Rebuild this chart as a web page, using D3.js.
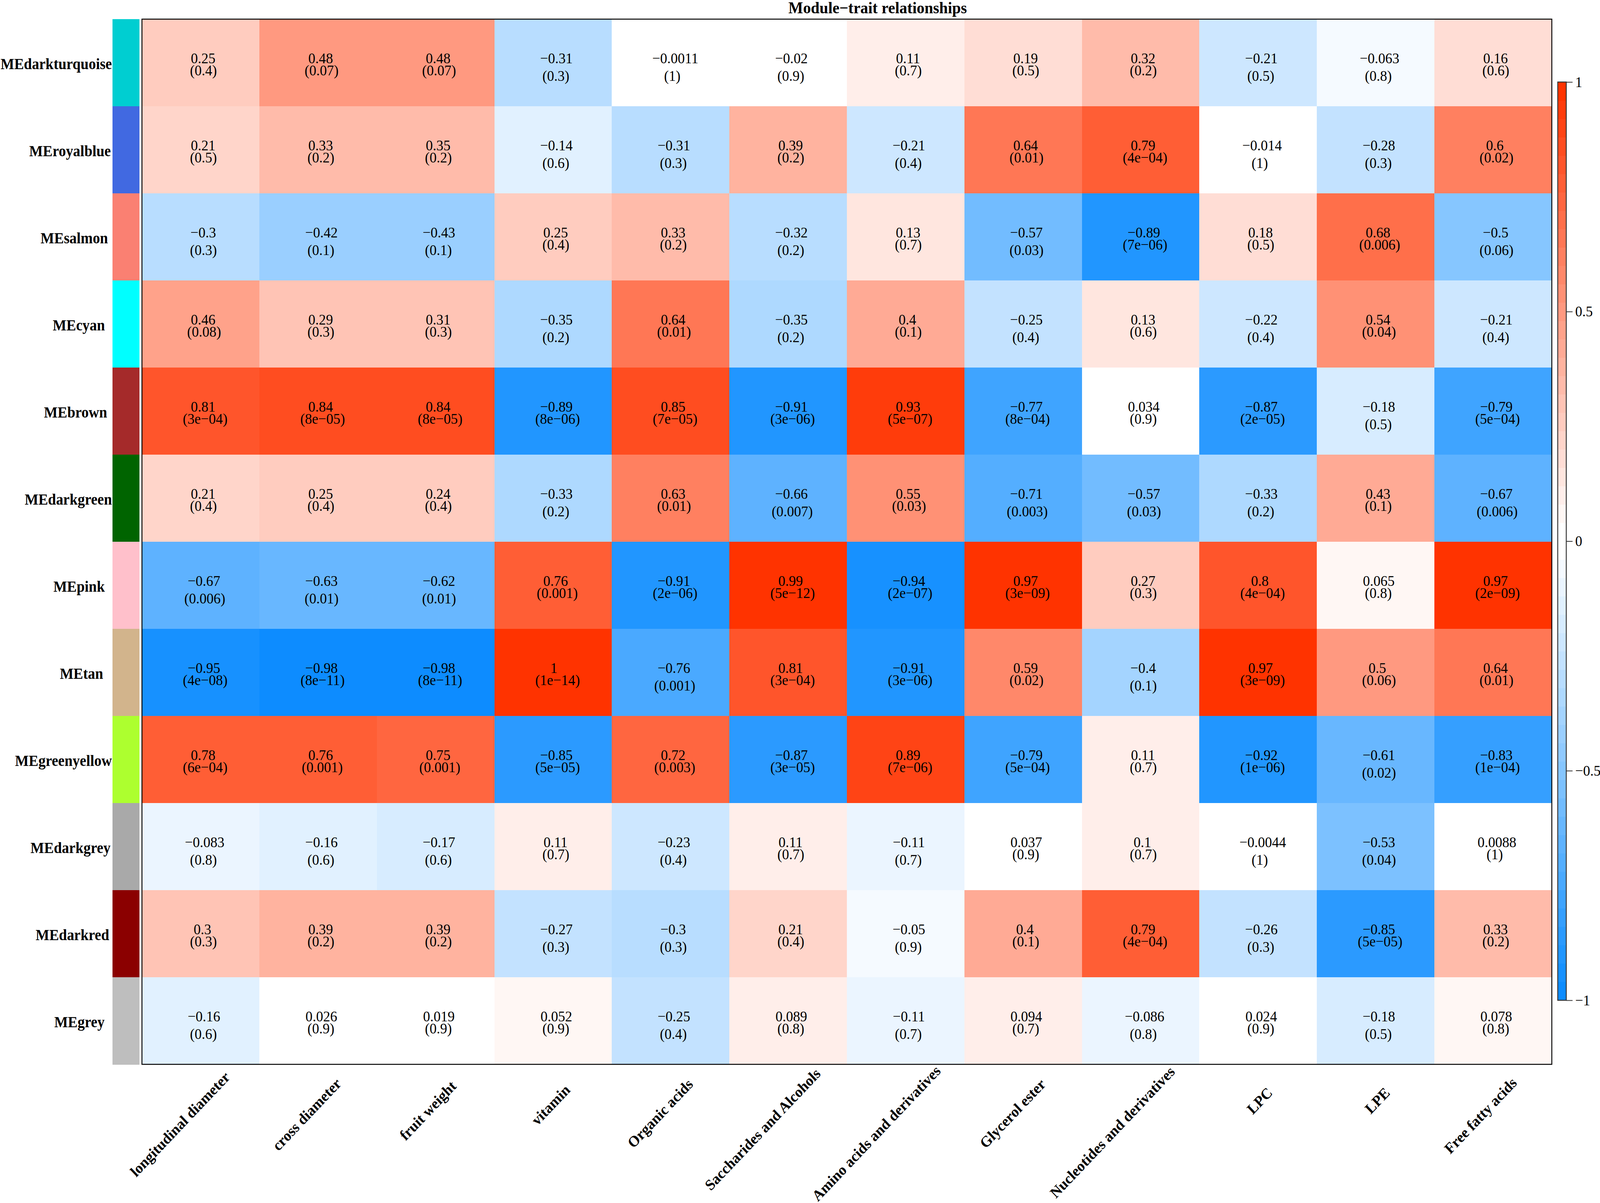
<!DOCTYPE html>
<html>
<head>
<meta charset="utf-8">
<script src="https://cdn.jsdelivr.net/npm/d3@7"></script>
<style>
  html, body { margin: 0; padding: 0; background: #fff; overflow: hidden; }
  .canvas svg { display: block; width: 100vw; height: 100vh; }
  text { font-family: "Liberation Serif", "Times New Roman", serif; fill: #000; }
</style>
</head>
<body>
<div class="canvas"></div>
<script>
// modules (rows) and their colour swatches
const modules = ['MEdarkturquoise','MEroyalblue','MEsalmon','MEcyan','MEbrown','MEdarkgreen',
  'MEpink','MEtan','MEgreenyellow','MEdarkgrey','MEdarkred','MEgrey'];
const moduleColours = ['#00CED1','#4169E1','#FA8072','#00FFFF','#A52A2A','#006400',
  '#FFC0CB','#D2B48C','#ADFF2F','#A9A9A9','#8B0000','#BEBEBE'];

// traits (columns)
const traits = ['longitudinal diameter','cross diameter','fruit weight','vitamin','Organic acids',
  'Saccharides and Alcohols','Amino acids and derivatives','Glycerol ester',
  'Nucleotides and derivatives','LPC','LPE','Free fatty acids'];

// correlations, one row per module
const corVals = [
  [0.25, 0.48, 0.48, -0.31, -0.0011, -0.02, 0.11, 0.19, 0.32, -0.21, -0.063, 0.16],
  [0.21, 0.33, 0.35, -0.14, -0.31, 0.39, -0.21, 0.64, 0.79, -0.014, -0.28, 0.6],
  [-0.3, -0.42, -0.43, 0.25, 0.33, -0.32, 0.13, -0.57, -0.89, 0.18, 0.68, -0.5],
  [0.46, 0.29, 0.31, -0.35, 0.64, -0.35, 0.4, -0.25, 0.13, -0.22, 0.54, -0.21],
  [0.81, 0.84, 0.84, -0.89, 0.85, -0.91, 0.93, -0.77, 0.034, -0.87, -0.18, -0.79],
  [0.21, 0.25, 0.24, -0.33, 0.63, -0.66, 0.55, -0.71, -0.57, -0.33, 0.43, -0.67],
  [-0.67, -0.63, -0.62, 0.76, -0.91, 0.99, -0.94, 0.97, 0.27, 0.8, 0.065, 0.97],
  [-0.95, -0.98, -0.98, 1, -0.76, 0.81, -0.91, 0.59, -0.4, 0.97, 0.5, 0.64],
  [0.78, 0.76, 0.75, -0.85, 0.72, -0.87, 0.89, -0.79, 0.11, -0.92, -0.61, -0.83],
  [-0.083, -0.16, -0.17, 0.11, -0.23, 0.11, -0.11, 0.037, 0.1, -0.0044, -0.53, 0.0088],
  [0.3, 0.39, 0.39, -0.27, -0.3, 0.21, -0.05, 0.4, 0.79, -0.26, -0.85, 0.33],
  [-0.16, 0.026, 0.019, 0.052, -0.25, 0.089, -0.11, 0.094, -0.086, 0.024, -0.18, 0.078]
];

// p-values as printed
const pVals = [
  ['0.4','0.07','0.07','0.3','1','0.9','0.7','0.5','0.2','0.5','0.8','0.6'],
  ['0.5','0.2','0.2','0.6','0.3','0.2','0.4','0.01','4e-04','1','0.3','0.02'],
  ['0.3','0.1','0.1','0.4','0.2','0.2','0.7','0.03','7e-06','0.5','0.006','0.06'],
  ['0.08','0.3','0.3','0.2','0.01','0.2','0.1','0.4','0.6','0.4','0.04','0.4'],
  ['3e-04','8e-05','8e-05','8e-06','7e-05','3e-06','5e-07','8e-04','0.9','2e-05','0.5','5e-04'],
  ['0.4','0.4','0.4','0.2','0.01','0.007','0.03','0.003','0.03','0.2','0.1','0.006'],
  ['0.006','0.01','0.01','0.001','2e-06','5e-12','2e-07','3e-09','0.3','4e-04','0.8','2e-09'],
  ['4e-08','8e-11','8e-11','1e-14','0.001','3e-04','3e-06','0.02','0.1','3e-09','0.06','0.01'],
  ['6e-04','0.001','0.001','5e-05','0.003','3e-05','7e-06','5e-04','0.7','1e-06','0.02','1e-04'],
  ['0.8','0.6','0.6','0.7','0.4','0.7','0.7','0.9','0.7','1','0.04','1'],
  ['0.3','0.2','0.2','0.3','0.3','0.4','0.9','0.1','4e-04','0.3','5e-05','0.2'],
  ['0.6','0.9','0.9','0.9','0.4','0.8','0.7','0.7','0.8','0.9','0.5','0.8']
];

const legendTicks = [-1, -0.5, 0, 0.5, 1];

const dims = { width: 4317, height: 3080 };
const plot = { left: 383, right: 4187, top: 49, bottom: 2725 };
const strip = { left: 304, right: 376 };
const bar = { left: 4203, right: 4226, top: 210, bottom: 2561 };
const fs = 38, labFs = 39;

const minus = s => String(s).replace(/-/g, '\u2212');

const svg = d3.select('.canvas')
  .append('svg')
  .attr('viewBox', `0 0 ${dims.width} ${dims.height}`)
  .attr('preserveAspectRatio', 'none');

svg.append('rect').attr('width', dims.width).attr('height', dims.height).attr('fill', '#fff');

// blueWhiteRed(50): white in the middle bins, linear to each end
const blueEnd = d3.rgb(13, 140, 255), redEnd = d3.rgb(255, 51, 0);
const palette = d3.range(50).map(i => i < 25
  ? d3.interpolateRgb('#ffffff', blueEnd)((24 - i) / 24)
  : d3.interpolateRgb('#ffffff', redEnd)((i - 25) / 24));
const colour = d3.scaleQuantize().domain([-1, 1]).range(palette);

const x = d3.scaleBand().domain(traits).range([plot.left, plot.right]);
const y = d3.scaleBand().domain(modules).range([plot.top, plot.bottom]);

// R placed text with narrower metrics than the drawn font: shift by a share of the width
const rShift = (sel, adj) => sel.each(function () {
  const w = this.getComputedTextLength();
  d3.select(this).attr('dx', adj * 0.2 * w);
});

// cells
const cells = modules.flatMap((m, i) => traits.map((t, j) =>
  ({ m, t, r: corVals[i][j], p: pVals[i][j] })));

const graph = svg.append('g');

graph.selectAll('rect.cell')
  .data(cells)
  .enter().append('rect')
    .attr('class', 'cell')
    .attr('x', d => x(d.t))
    .attr('y', d => y(d.m))
    .attr('width', x.bandwidth() + 0.5)
    .attr('height', y.bandwidth() + 0.5)
    .attr('fill', d => colour(d.r))
    .attr('shape-rendering', 'crispEdges');

// one text per cell, two lines
const cellText = graph.selectAll('text.lab')
  .data(cells)
  .enter().append('text')
    .attr('class', 'lab')
    .attr('text-anchor', 'middle')
    .attr('font-size', fs)
    .attr('transform', d => `translate(${x(d.t) + x.bandwidth() / 2}, ${y(d.m) + y.bandwidth() / 2})`);

cellText.append('tspan')
  .attr('x', 0)
  .attr('y', 1)
  .text(d => minus(d.r))
  .call(rShift, 0.5);

// second line sits lower when only the first line carries a minus
cellText.append('tspan')
  .attr('x', 0)
  .attr('y', d => 1 + ((d.r < 0 && !d.p.includes('-')) ? 46 : 31))
  .text(d => `(${minus(d.p)})`)
  .call(rShift, 0.5);

// frame
svg.append('rect')
  .attr('x', plot.left).attr('y', plot.top)
  .attr('width', plot.right - plot.left).attr('height', plot.bottom - plot.top)
  .attr('fill', 'none').attr('stroke', '#000').attr('stroke-width', 2.5);

// module colour strip
svg.selectAll('rect.strip')
  .data(modules)
  .enter().append('rect')
    .attr('class', 'strip')
    .attr('x', strip.left)
    .attr('y', d => y(d))
    .attr('width', strip.right - strip.left)
    .attr('height', y.bandwidth() + 0.5)
    .attr('fill', (d, i) => moduleColours[i])
    .attr('shape-rendering', 'crispEdges');

// row labels
svg.selectAll('text.row')
  .data(modules)
  .enter().append('text')
    .attr('class', 'row')
    .attr('x', 255)
    .attr('y', d => y(d) + y.bandwidth() / 2 + 17)
    .attr('text-anchor', 'end')
    .attr('font-weight', 'bold')
    .attr('font-size', labFs)
    .text(d => d)
    .each(function () {
      const w = this.getComputedTextLength();
      d3.select(this).attr('dx', Math.min(0.2 * w, 47));
    });

// column labels, 45 degrees
svg.selectAll('text.col')
  .data(traits)
  .enter().append('text')
    .attr('class', 'col')
    .attr('transform', d => `translate(${x(d) + x.bandwidth() / 2 + 30}, 2811) rotate(-45)`)
    .attr('text-anchor', 'end')
    .attr('font-weight', 'bold')
    .attr('font-size', labFs)
    .text(d => d)
    .call(rShift, 1);

// title
svg.append('text')
  .attr('x', 2368).attr('y', 34)
  .attr('text-anchor', 'middle')
  .attr('font-weight', 'bold')
  .attr('font-size', 42)
  .text('Module\u2212trait relationships');

// colour bar legend
const cbY = d3.scaleLinear().domain([-1, 1]).range([bar.bottom, bar.top]);
const legend = svg.append('g');

legend.selectAll('rect')
  .data(palette)
  .enter().append('rect')
    .attr('x', bar.left)
    .attr('width', bar.right - bar.left)
    .attr('y', c => cbY(colour.invertExtent(c)[1]))
    .attr('height', c => cbY(colour.invertExtent(c)[0]) - cbY(colour.invertExtent(c)[1]) + 0.5)
    .attr('fill', c => c)
    .attr('shape-rendering', 'crispEdges');

legend.append('rect')
  .attr('x', bar.left).attr('y', bar.top)
  .attr('width', bar.right - bar.left).attr('height', bar.bottom - bar.top)
  .attr('fill', 'none').attr('stroke', '#333').attr('stroke-width', 2.5);

const axis = d3.axisRight(cbY)
  .tickValues(legendTicks)
  .tickSize(17)
  .tickPadding(7)
  .tickFormat(d => minus(d));

const axisG = legend.append('g')
  .attr('transform', `translate(${bar.right}, 0)`)
  .call(axis);
axisG.select('.domain').remove();
axisG.selectAll('line').attr('stroke', '#333').attr('stroke-width', 2);
axisG.selectAll('text')
  .attr('font-family', '"Liberation Serif", serif')
  .attr('font-size', fs)
  .attr('fill', '#000');
</script>
</body>
</html>
